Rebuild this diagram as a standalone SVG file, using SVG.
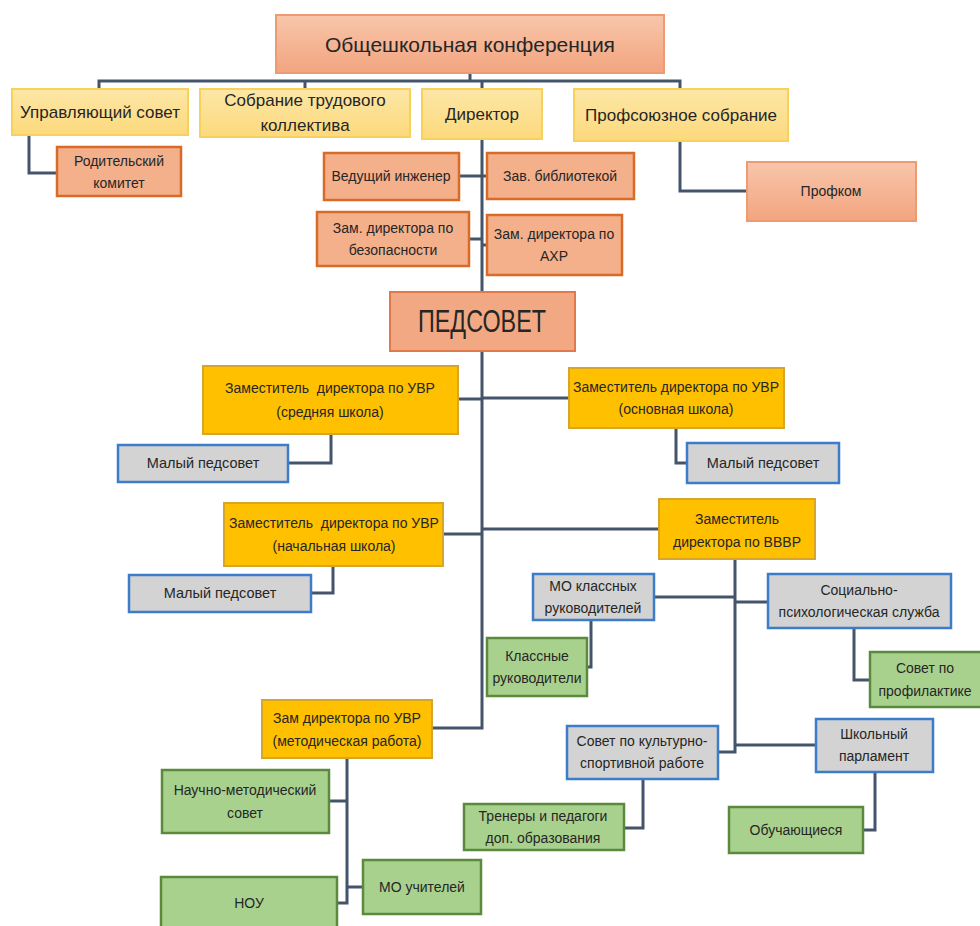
<svg xmlns="http://www.w3.org/2000/svg" width="980" height="926" viewBox="0 0 980 926">
<defs>
<linearGradient id="gS" x1="0" y1="0" x2="0" y2="1"><stop offset="0" stop-color="#f8c6ab"/><stop offset="1" stop-color="#f2a47f"/></linearGradient>
<linearGradient id="gY" x1="0" y1="0" x2="0" y2="1"><stop offset="0" stop-color="#fde7a6"/><stop offset="1" stop-color="#fcd97c"/></linearGradient>
</defs>
<style>
text{font-family:"Liberation Sans",Arial,sans-serif;fill:#262626;text-anchor:middle;dominant-baseline:central}
.conn path{fill:none;stroke:#44546a;stroke-width:3}
.s1{fill:url(#gS);stroke:#ec9b73;stroke-width:2}
.s2{fill:#f3b08b;stroke:#d96b28;stroke-width:2.5}
.s3{fill:#f2a983;stroke:#e07a4c;stroke-width:2}
.y1{fill:url(#gY);stroke:#f6d25d;stroke-width:2}
.g1{fill:#ffc000;stroke:#d6a52a;stroke-width:2}
.gr{fill:#d3d3d3;stroke:#3d7cc9;stroke-width:2.5}
.gn{fill:#a9d18e;stroke:#5b8a3c;stroke-width:2.5}
.f17{font-size:17px}.f14{font-size:14px}.f13{font-size:14px}.f15{font-size:14.5px}
</style>
<rect width="980" height="926" fill="#ffffff"/>
<g class="conn">
<path d="M470 73V81M99 88V81H680V89M305 81V88M482 81V89"/>
<path d="M29 135V173H57"/>
<path d="M680 141V191H747"/>
<path d="M482 139V292M459 176H487M469 239H482M482 245H487"/>
<path d="M482 351V728H432M458 399H482M482 398H568M443 534H482M482 529H659"/>
<path d="M331 434V463H288M676 428V463H687M333 566V593H311"/>
<path d="M735 559V752H718M654 597H735M735 602H767M735 745H816"/>
<path d="M591 620V667H587M854 628V680H870M643 779V828H624M875 772V830H863"/>
<path d="M347 758V903H337M329 801H347M347 887H363"/>
</g>
<g id="conference"><rect class="s1" x="276" y="15" width="388" height="58"/><text x="470" y="44" style="font-size:21px">Общешкольная конференция</text></g>
<g id="upr"><rect class="y1" x="12" y="89" width="176" height="46"/><text class="f17" x="100" y="112">Управляющий совет</text></g>
<g id="sobr"><rect class="y1" x="200" y="89" width="210" height="48"/><text class="f17" x="305" y="100">Собрание трудового</text><text class="f17" x="305" y="125">коллектива</text></g>
<g id="dir"><rect class="y1" x="422" y="89" width="120" height="50"/><text class="f17" x="482" y="114">Директор</text></g>
<g id="prof"><rect class="y1" x="574" y="89" width="214" height="52"/><text class="f17" x="681" y="115">Профсоюзное собрание</text></g>
<g id="rodkom"><rect class="s2" x="57" y="147" width="124" height="49"/><text class="f14" x="119" y="161">Родительский</text><text class="f14" x="119" y="183">комитет</text></g>
<g id="inzh"><rect class="s2" x="324" y="153" width="135" height="47"/><text class="f14" x="391" y="176">Ведущий инженер</text></g>
<g id="bibl"><rect class="s2" x="487" y="153" width="147" height="46"/><text class="f14" x="560" y="176">Зав. библиотекой</text></g>
<g id="bez"><rect class="s2" x="317" y="212" width="152" height="54"/><text class="f14" x="393" y="228">Зам. директора по</text><text class="f14" x="393" y="250">безопасности</text></g>
<g id="ahr"><rect class="s2" x="487" y="215" width="135" height="60"/><text class="f14" x="554" y="234">Зам. директора по</text><text class="f14" x="554" y="256">АХР</text></g>
<g id="profkom"><rect class="s1" x="747" y="162" width="169" height="59"/><text class="f14" x="831" y="191">Профком</text></g>
<g id="pedsovet"><rect class="s3" x="390" y="292" width="185" height="59"/><text x="482" y="321" style="font-size:31px" textLength="128" lengthAdjust="spacingAndGlyphs">ПЕДСОВЕТ</text></g>
<g id="zam-sr"><rect class="g1" x="203" y="366" width="255" height="68"/><text class="f13" x="330" y="388">Заместитель&#160; директора по УВР</text><text class="f13" x="330" y="412">(средняя школа)</text></g>
<g id="zam-osn"><rect class="g1" x="569" y="368" width="215" height="60"/><text class="f13" x="676" y="387">Заместитель директора по УВР</text><text class="f13" x="676" y="409">(основная школа)</text></g>
<g id="mp1"><rect class="gr" x="118" y="445" width="170" height="37"/><text class="f15" x="203" y="463">Малый педсовет</text></g>
<g id="mp2"><rect class="gr" x="687" y="443" width="152" height="40"/><text class="f15" x="763" y="463">Малый педсовет</text></g>
<g id="zam-nach"><rect class="g1" x="224" y="503" width="219" height="63"/><text class="f13" x="334" y="523">Заместитель&#160; директора по УВР</text><text class="f13" x="334" y="546">(начальная школа)</text></g>
<g id="zam-vvvr"><rect class="g1" x="659" y="499" width="156" height="60"/><text class="f13" x="737" y="519">Заместитель</text><text class="f13" x="737" y="542">директора по ВВВР</text></g>
<g id="mp3"><rect class="gr" x="129" y="575" width="182" height="37"/><text class="f15" x="220" y="593">Малый педсовет</text></g>
<g id="mo-kl"><rect class="gr" x="533" y="574" width="121" height="46"/><text class="f14" x="593" y="586">МО классных</text><text class="f14" x="593" y="608">руководителей</text></g>
<g id="soc"><rect class="gr" x="768" y="574" width="183" height="54"/><text class="f14" x="859" y="590">Социально-</text><text class="f14" x="859" y="612">психологическая служба</text></g>
<g id="kl-ruk"><rect class="gn" x="487" y="638" width="100" height="58"/><text class="f14" x="537" y="656">Классные</text><text class="f14" x="537" y="678">руководители</text></g>
<g id="profil"><rect class="gn" x="870" y="652" width="115" height="55"/><text class="f14" x="925" y="668">Совет по</text><text class="f14" x="925" y="691">профилактике</text></g>
<g id="metod"><rect class="g1" x="262" y="700" width="170" height="58"/><text class="f13" x="347" y="718">Зам директора по УВР</text><text class="f13" x="347" y="741">(методическая работа)</text></g>
<g id="kult"><rect class="gr" x="567" y="726" width="151" height="53"/><text class="f14" x="642" y="741">Совет по культурно-</text><text class="f14" x="642" y="763">спортивной работе</text></g>
<g id="parl"><rect class="gr" x="816" y="719" width="117" height="53"/><text class="f14" x="874" y="734">Школьный</text><text class="f14" x="874" y="756">парламент</text></g>
<g id="nms"><rect class="gn" x="162" y="770" width="167" height="63"/><text class="f14" x="245" y="790">Научно-методический</text><text class="f14" x="245" y="813">совет</text></g>
<g id="trener"><rect class="gn" x="464" y="804" width="160" height="46"/><text class="f14" x="543" y="816">Тренеры и педагоги</text><text class="f14" x="543" y="838">доп. образования</text></g>
<g id="obuch"><rect class="gn" x="729" y="807" width="134" height="46"/><text class="f14" x="796" y="830">Обучающиеся</text></g>
<g id="mo-uch"><rect class="gn" x="363" y="860" width="118" height="54"/><text class="f14" x="422" y="887">МО учителей</text></g>
<g id="nou"><rect class="gn" x="161" y="877" width="176" height="55"/><text class="f14" x="249" y="903">НОУ</text></g>
</svg>
